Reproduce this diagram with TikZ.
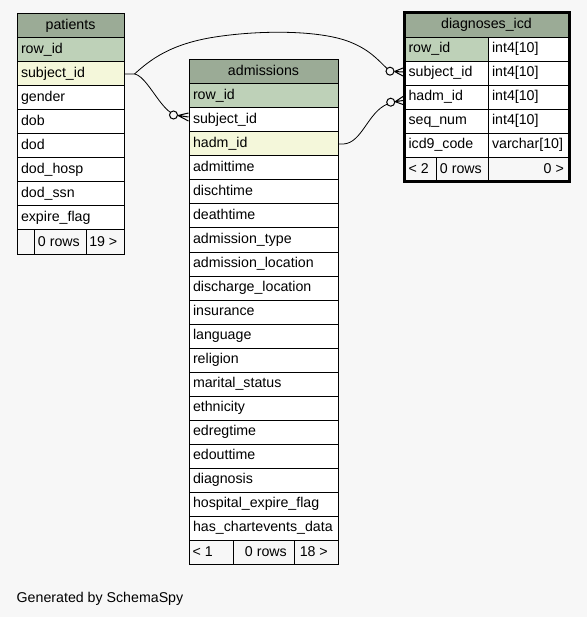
\documentclass[tikz,border=0pt]{standalone}
\usepackage{fontspec}
\setmainfont{Liberation Sans}
\usetikzlibrary{calc}
\definecolor{hdr}{HTML}{9BAB96}
\definecolor{pk}{HTML}{BED1B8}
\definecolor{idx}{HTML}{F4F7DA}
\definecolor{bg}{HTML}{F7F7F7}
\newcommand\cellfont{\fontsize{14.2}{16}\selectfont}
\tikzset{
  cell/.style={draw=black, line width=1pt, rectangle, anchor=north west,
    minimum height=24pt, inner xsep=4pt, inner ysep=0pt,
    text height=10pt, text depth=3pt, font=\cellfont, fill=white, align=left},
  hdrcell/.style={cell, fill=hdr, align=center},
  footcell/.style={cell, fill=bg},
  foottxt/.style={inner sep=0pt, font=\cellfont},
  edge/.style={draw=black, line width=0.8pt},
  odot/.style={draw=black, line width=1pt, fill=bg},
}
\begin{document}
\begin{tikzpicture}[x=1pt,y=-1pt]
\useasboundingbox (0,0) rectangle (587,617);
\fill[bg] (0,0) rectangle (587,617);

% ---------------- patients ----------------
\node[hdrcell, text width=99pt, minimum width=107pt] (ph) at (16.5,13.5) {patients};
\node[cell, fill=pk, text width=99pt, minimum width=107pt] (p1) at (16.5,37.5) {row\_id};
\node[cell, fill=idx, text width=99pt, minimum width=107pt] (p2) at (16.5,61.5) {subject\_id};
\foreach \t [count=\i from 3] in {gender,dob,dod,dod\_hosp,dod\_ssn,expire\_flag}
  \node[cell, text width=99pt, minimum width=107pt] (p\i) at (16.5,{37.5+24*(\i-1)}) {\t};
\node[footcell, minimum width=17pt] (pf1) at (16.5,229.5) {};
\node[footcell, minimum width=52pt] (pf2) at (33.5,229.5) {};
\node[footcell, minimum width=38pt] (pf3) at (85.5,229.5) {};
\node[foottxt, anchor=base east, xshift=-6.5pt, yshift=8.5pt] (pt2) at (pf2.south east) {0 rows};
\node[foottxt, anchor=base east, xshift=-7pt, yshift=8.5pt] (pt3) at (pf3.south east) {19 >};

% ---------------- admissions ----------------
\node[hdrcell, text width=141pt, minimum width=149pt] (ah) at (188.5,59.5) {admissions};
\node[cell, fill=pk, text width=141pt, minimum width=149pt] (a1) at (188.5,83.5) {row\_id};
\node[cell, text width=141pt, minimum width=149pt] (a2) at (188.5,107.5) {subject\_id};
\node[cell, fill=idx, text width=141pt, minimum width=149pt] (a3) at (188.5,131.5) {hadm\_id};
\foreach \t [count=\i from 4] in {admittime,dischtime,deathtime,admission\_type,admission\_location,discharge\_location,insurance,language,religion,marital\_status,ethnicity,edregtime,edouttime,diagnosis,hospital\_expire\_flag,has\_chartevents\_data}
  \node[cell, text width=141pt, minimum width=149pt] (a\i) at (188.5,{83.5+24*(\i-1)}) {\t};
\node[footcell, minimum width=44pt] (af1) at (188.5,539.5) {};
\node[footcell, minimum width=61pt] (af2) at (232.5,539.5) {};
\node[footcell, minimum width=44pt] (af3) at (293.5,539.5) {};
\node[foottxt, anchor=base west, xshift=4pt, yshift=8.5pt] (at1) at (af1.south west) {< 1};
\node[foottxt, anchor=base east, xshift=-7.5pt, yshift=8.5pt] (at2) at (af2.south east) {0 rows};
\node[foottxt, anchor=base east, xshift=-10.5pt, yshift=8.5pt] (at3) at (af3.south east) {18 >};

% ---------------- diagnoses_icd ----------------
\node[hdrcell, text width=156pt, minimum width=164pt] (dh) at (404,13) {diagnoses\_icd};
\node[cell, fill=pk, text width=75.5pt, minimum width=83.5pt] (d1) at (404,37) {row\_id};
\node[cell, text width=72.5pt, minimum width=80.5pt] (t1) at (487.5,37) {int4[10]};
\node[cell, text width=75.5pt, minimum width=83.5pt] (d2) at (404,61) {subject\_id};
\node[cell, text width=72.5pt, minimum width=80.5pt] (t2) at (487.5,61) {int4[10]};
\node[cell, text width=75.5pt, minimum width=83.5pt] (d3) at (404,85) {hadm\_id};
\node[cell, text width=72.5pt, minimum width=80.5pt] (t3) at (487.5,85) {int4[10]};
\node[cell, text width=75.5pt, minimum width=83.5pt] (d4) at (404,109) {seq\_num};
\node[cell, text width=72.5pt, minimum width=80.5pt] (t4) at (487.5,109) {int4[10]};
\node[cell, text width=75.5pt, minimum width=83.5pt] (d5) at (404,133) {icd9\_code};
\node[cell, text width=72.5pt, minimum width=80.5pt] (t5) at (487.5,133) {varchar[10]};
\node[footcell, minimum width=31.5pt] (df1) at (404,157) {};
\node[footcell, minimum width=52pt] (df2) at (435.5,157) {};
\node[footcell, minimum width=80.5pt] (df3) at (487.5,157) {};
\node[foottxt, anchor=base west, xshift=4.5pt, yshift=8.5pt] (dt1) at (df1.south west) {< 2};
\node[foottxt, anchor=base east, xshift=-6.5pt, yshift=8.5pt] (dt2) at (df2.south east) {0 rows};
\node[foottxt, anchor=base east, xshift=-5pt, yshift=8.5pt] (dt3) at (df3.south east) {0 >};
\draw[line width=3pt] (dh.north west) rectangle (df3.south east);

% ---------------- connectors ----------------
\coordinate (pj) at ($(p2.east)+(10,0)$);
\coordinate (aj) at ($(a3.east)+(5,0)$);
\coordinate (c1) at ($(a2.west)+(-15,-5)$);
\coordinate (c2) at ($(d2.west)+(-14,-2.3)$);
\coordinate (c3) at ($(d3.west)+(-13.3,4.7)$);

% patients.subject_id -> admissions.subject_id
\draw[edge] (p2.east) -- (pj) .. controls (146,76) and (158,104) .. ($(c1)+(-3,-2.6)$);
\draw[odot] (c1) circle (4);
\draw[line width=1pt] ($(c1)+(4.5,0.5)$) -- ($(a2.west)+(0,-7)$)
  ($(c1)+(4.5,0.5)$) -- ($(a2.west)+(0,-3)$)
  ($(c1)+(4.5,0.5)$) -- ($(a2.west)+(0,1)$);

% patients.subject_id -> diagnoses_icd.subject_id
\draw[edge] (pj) .. controls (150,60) and (170,44) .. (215,37)
  .. controls (260,30) and (320,30) .. (350,42)
  .. controls (370,50) and (378,60) .. ($(c2)+(-3,-2.7)$);
\draw[odot] (c2) circle (4);
\draw[line width=1pt] ($(c2)+(4.5,0.3)$) -- ($(d2.west)+(-1,-5.5)$)
  ($(c2)+(4.5,0.3)$) -- ($(d2.west)+(-1,-1.5)$)
  ($(c2)+(4.5,0.3)$) -- ($(d2.west)+(-1,2.5)$);

% admissions.hadm_id -> diagnoses_icd.hadm_id
\draw[edge] (a3.east) -- (aj) .. controls (362,143) and (368,112) .. ($(c3)+(-3.5,2)$);
\draw[odot] (c3) circle (4);
\draw[line width=1pt] ($(c3)+(4.5,-0.5)$) -- ($(d3.west)+(-1,-1)$)
  ($(c3)+(4.5,-0.5)$) -- ($(d3.west)+(-1,3)$)
  ($(c3)+(4.5,-0.5)$) -- ($(d3.west)+(-1,7)$);

\node[foottxt, anchor=base west] (gen) at (16.5,602.5) {Generated by SchemaSpy};
\end{tikzpicture}
\end{document}
